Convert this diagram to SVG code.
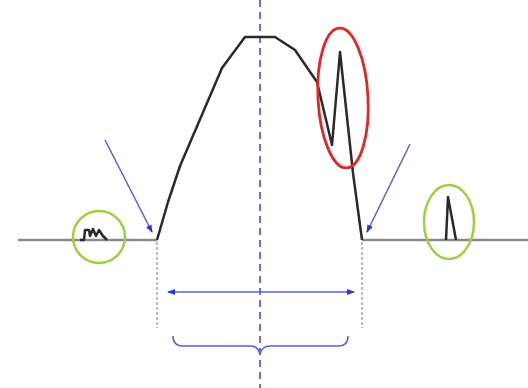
<svg xmlns="http://www.w3.org/2000/svg" width="528" height="388" viewBox="0 0 528 388">
<defs>
<style>
.base{stroke:#8a8a8a;stroke-width:2.5;fill:none}
.curve{stroke:#2a2a2a;stroke-width:2.5;fill:none;stroke-linejoin:round}
.blue{stroke:#5b5bea;stroke-width:1.5;fill:none}
.dash{stroke:#5b5bea;stroke-width:1.8;stroke-dasharray:7 5;fill:none}
.dot{stroke:#8c8cc8;stroke-width:1.2;stroke-dasharray:3 2;fill:none}
.green{stroke:#a0d040;stroke-width:2.5;fill:none}
.red{stroke:#e02828;stroke-width:2.8;fill:none}
</style>
<marker id="ah" markerWidth="8" markerHeight="8" refX="7" refY="4" orient="auto" markerUnits="userSpaceOnUse">
<path d="M0,1 L8,4 L0,7 Z" fill="#3333dd"/>
</marker>
<marker id="as" markerWidth="8" markerHeight="8" refX="7" refY="4" orient="auto-start-reverse" markerUnits="userSpaceOnUse">
<path d="M0,1 L8,4 L0,7 Z" fill="#3333dd"/>
</marker>
</defs>
<g id="centerline"><line class="dash" x1="260" y1="0" x2="260" y2="388"/></g>
<g id="baseline">
<polyline class="base" points="18,240 157,240"/>
<polyline class="base" points="362,240 528,240"/>
</g>
<g id="peak">
<polyline class="curve" points="157,240 168,202 180,166 222,68 245,37 275,37 295,50 317,82 332,145 340,52 353,173 362,240"/>
</g>
<g id="noise-left">
<polyline class="curve" stroke-width="2" points="80,240 84,240 85,230 89,230 90,236 93,229 96,236 99,230 103,236 107,240"/>
<circle class="green" cx="99" cy="237" r="26"/>
</g>
<g id="noise-right">
<polyline class="curve" stroke-width="2" points="446,240 448,197 456,240"/>
<ellipse class="green" cx="449" cy="222" rx="25" ry="37"/>
</g>
<g id="spike-highlight">
<ellipse class="red" cx="343" cy="98" rx="25" ry="70" transform="rotate(-3 343 98)"/>
</g>
<g id="connectors">
<line class="blue" x1="105" y1="140" x2="152" y2="232" marker-end="url(#ah)"/>
<line class="blue" x1="410" y1="144" x2="367" y2="232" marker-end="url(#ah)"/>
<line class="dot" x1="157" y1="242" x2="157" y2="328"/>
<line class="dot" x1="362" y1="242" x2="362" y2="328"/>
<line class="blue" x1="168" y1="292" x2="354" y2="292" marker-start="url(#as)" marker-end="url(#as)"/>
<path class="blue" stroke-width="1.2" d="M173,336 Q173,346 183,346 L250,346 Q258,346 260,354 Q262,346 270,346 L338,346 Q348,346 348,336"/>
</g>
</svg>
